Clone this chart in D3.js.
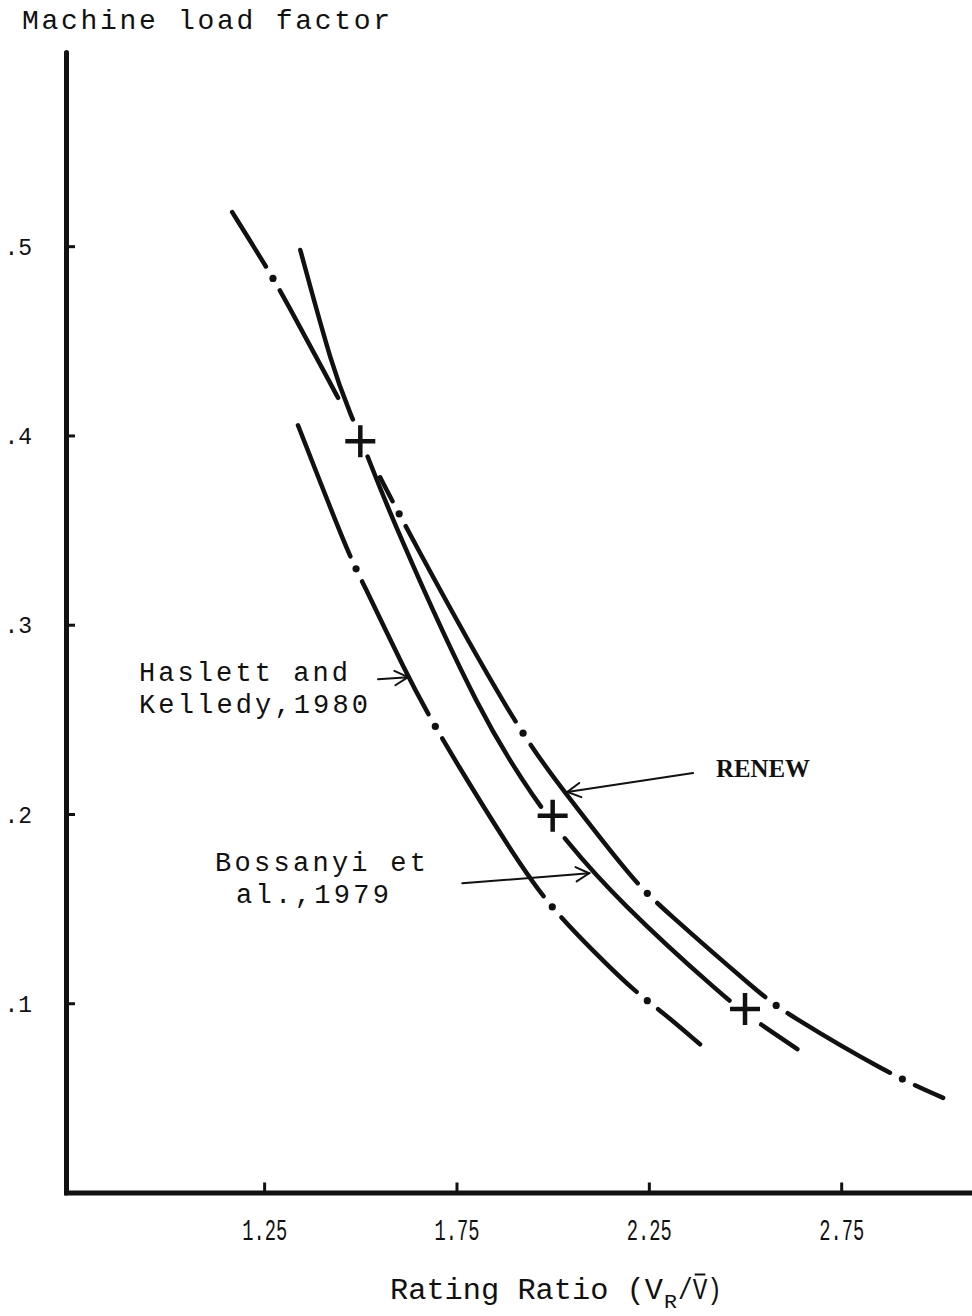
<!DOCTYPE html>
<html>
<head>
<meta charset="utf-8">
<script src="https://cdn.jsdelivr.net/npm/d3@7/dist/d3.min.js"></script>
<style>
  html, body { margin: 0; padding: 0; background: #fff; }
  svg { display: block; }
</style>
</head>
<body>
<svg id="chart" width="972" height="1316"></svg>
<script>
// Rating ratio (x) vs machine load factor (y)
const xTicks = [1.25, 1.75, 2.25, 2.75];
const yTicks = [0.1, 0.2, 0.3, 0.4, 0.5];
const yTickLabels = [".1", ".2", ".3", ".4", ".5"];

// RENEW (dash-dot)
const renewX = [1.167, 1.253, 1.302, 1.442, 1.552, 1.619, 1.903, 2.033, 2.209, 2.280, 2.545, 2.604, 2.870, 3.015];
const renewY = [0.518, 0.490, 0.473, 0.420, 0.378, 0.351, 0.246, 0.211, 0.165, 0.151, 0.104, 0.095, 0.063, 0.050];
const renewDots = [1.273, 1.601, 1.923, 2.246, 2.581, 2.909];
const renewGaps = [1.497];

// Bossanyi et al., 1979 (solid)
const bossX = [1.344, 1.429, 1.474, 1.518, 1.583, 1.817, 1.960, 2.027, 2.168, 2.454, 2.521, 2.636];
const bossY = [0.498, 0.4345, 0.4117, 0.3896, 0.3552, 0.2495, 0.2062, 0.1877, 0.1545, 0.1016, 0.0916, 0.0757];

// Haslett and Kelledy, 1980 (dash-dot)
const haslX = [1.338, 1.468, 1.500, 1.624, 1.674, 1.734, 1.934, 2.020, 2.098, 2.215, 2.280, 2.383];
const haslY = [0.4054, 0.3378, 0.3251, 0.2723, 0.2538, 0.2321, 0.1666, 0.1455, 0.1291, 0.1058, 0.0963, 0.0783];
const haslDots = [1.489, 1.695, 1.999, 2.246];

// cross markers
const plusX = [1.5, 2.0, 2.5];
const plusY = [0.397, 0.199, 0.097];

// annotation arrows: tail -> tip
const arrowTailX = [1.546, 1.765, 2.365];
const arrowTailY = [0.2712, 0.1634, 0.2216];
const arrowTipX = [1.624, 2.095, 2.038];
const arrowTipY = [0.2723, 0.1687, 0.2116];

const MONO = '"Liberation Mono", "DejaVu Sans Mono", monospace';
const INK = "#111";

const svg = d3.select("#chart");
const x = d3.scaleLinear().domain([0.735, 3.09]).range([66, 972]);
const y = d3.scaleLinear().domain([0, 0.6026]).range([1192.5, 52]);

const zip = (xs, ys) => xs.map((v, i) => [v, ys[i]]);
const line = d3.line().x(d => x(d[0])).y(d => y(d[1])).curve(d3.curveBasis);

// axes
const xAxis = d3.axisBottom(x).tickValues(xTicks).tickFormat(d3.format(".2f"))
  .tickSizeInner(-10).tickSizeOuter(0).tickPadding(26);
const gx = svg.append("g").attr("transform", `translate(0,${y(0)})`).call(xAxis);
gx.select(".domain").attr("stroke", INK).attr("stroke-width", 5).attr("stroke-linecap", "square");
gx.selectAll(".tick line").attr("stroke", INK).attr("stroke-width", 3);
gx.selectAll(".tick text")
  .style("font-family", MONO).style("font-size", "30px")
  .attr("fill", INK)
  .attr("textLength", 45).attr("lengthAdjust", "spacingAndGlyphs");

const yAxis = d3.axisLeft(y).tickValues(yTicks).tickFormat((d, i) => yTickLabels[i])
  .tickSizeInner(-9).tickSizeOuter(0).tickPadding(34);
const gy = svg.append("g").attr("transform", `translate(${x.range()[0]},0)`).call(yAxis);
gy.select(".domain").attr("stroke", INK).attr("stroke-width", 5).attr("stroke-linecap", "round");
gy.selectAll(".tick line").attr("stroke", INK).attr("stroke-width", 3);
gy.selectAll(".tick text")
  .style("font-family", MONO).style("font-size", "23px")
  .attr("fill", INK).attr("dy", "0.36em");

// curve with breaks (gaps and dots) placed at given x values
function lengthAtX(node, px) {
  let lo = 0, hi = node.getTotalLength();
  for (let i = 0; i < 40; i++) {
    const mid = (lo + hi) / 2;
    if (node.getPointAtLength(mid).x < px) lo = mid; else hi = mid;
  }
  return (lo + hi) / 2;
}

function drawCurve(pts, dots, gaps, dotHalf, gapHalf) {
  const path = svg.append("path")
    .datum(pts)
    .attr("d", line)
    .attr("fill", "none")
    .attr("stroke", INK)
    .attr("stroke-width", 4.5)
    .attr("stroke-linecap", "round");
  const node = path.node();
  const total = node.getTotalLength();
  const breaks = [];
  dots.forEach(v => breaks.push({ L: lengthAtX(node, x(v)), h: dotHalf, dot: true }));
  gaps.forEach(v => breaks.push({ L: lengthAtX(node, x(v)), h: gapHalf, dot: false }));
  breaks.sort((a, b) => a.L - b.L);
  if (breaks.length) {
    const arr = [];
    let cur = 0;
    breaks.forEach(b => {
      arr.push(Math.max(0.01, b.L - b.h - cur), 2 * b.h);
      cur = b.L + b.h;
    });
    arr.push(total - cur + 2, total + 10);
    path.attr("stroke-dasharray", arr.join(","));
  }
  breaks.filter(b => b.dot).forEach(b => {
    const p = node.getPointAtLength(b.L);
    svg.append("circle").attr("cx", p.x).attr("cy", p.y).attr("r", 3.6).attr("fill", INK);
  });
}

drawCurve(zip(haslX, haslY), haslDots, [], 14, 0);
drawCurve(zip(bossX, bossY), [], plusX, 0, 20);
drawCurve(zip(renewX, renewY), renewDots, renewGaps, 14, 45);

// cross markers
svg.selectAll(".plus").data(zip(plusX, plusY)).enter().append("path")
  .attr("class", "plus")
  .attr("transform", d => `translate(${x(d[0])},${y(d[1])})`)
  .attr("d", "M-15,0H15M0,-16V16")
  .attr("stroke", INK).attr("stroke-width", 4.5).attr("fill", "none");

// annotation arrows
arrowTailX.forEach((tx, i) => {
  const x0 = x(tx), y0 = y(arrowTailY[i]), x1 = x(arrowTipX[i]), y1 = y(arrowTipY[i]);
  const a = Math.atan2(y1 - y0, x1 - x0);
  const g = svg.append("g").attr("stroke", INK).attr("stroke-width", 2).attr("fill", "none")
    .attr("stroke-linecap", "round");
  g.append("line").attr("x1", x0).attr("y1", y0).attr("x2", x1).attr("y2", y1);
  const len = 15, spread = 0.5;
  g.append("path").attr("d",
    `M${x1 - len * Math.cos(a - spread)},${y1 - len * Math.sin(a - spread)}` +
    `L${x1},${y1}` +
    `L${x1 - len * Math.cos(a + spread)},${y1 - len * Math.sin(a + spread)}`);
});

// text labels
function label(txt, px, py, w, size, adjust) {
  return svg.append("text").attr("x", px).attr("y", py)
    .style("font-family", MONO).style("font-size", size + "px")
    .attr("fill", INK)
    .attr("textLength", w).attr("lengthAdjust", adjust || "spacing")
    .text(txt);
}
label("Machine load factor", 22, 29, 368, 28);
label("Haslett and", 139, 681, 209, 27);
label("Kelledy,1980", 139, 713, 229, 27);
label("Bossanyi et", 215, 871, 211, 27);
label("al.,1979", 236, 903, 153, 27);
svg.append("text").attr("x", 716).attr("y", 777)
  .style("font-family", '"Liberation Serif", "DejaVu Serif", serif')
  .style("font-size", "25px").style("font-weight", "bold")
  .attr("fill", INK)
  .attr("textLength", 94).attr("lengthAdjust", "spacingAndGlyphs").text("RENEW");

// x axis title: Rating Ratio (V_R / V-bar)
label("Rating Ratio (V", 390, 1299, 273, 30, "spacingAndGlyphs");
label("R", 664, 1308, 13, 21, "spacingAndGlyphs");
const tail = label("/V)", 678, 1299, 44, 30, "spacingAndGlyphs");
// bar over the mean-speed V
const ext = tail.node().getExtentOfChar(1);
svg.append("line")
  .attr("x1", ext.x + 2).attr("x2", ext.x + ext.width - 2)
  .attr("y1", ext.y + 0.5).attr("y2", ext.y + 0.5)
  .attr("stroke", INK).attr("stroke-width", 2);
</script>
</body>
</html>
